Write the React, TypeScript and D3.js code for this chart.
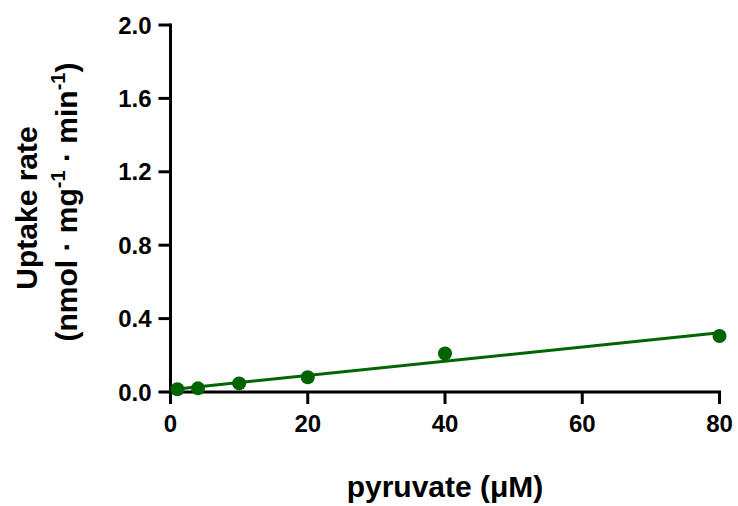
import React from "react";
import * as d3 from "d3";

const xValues = [1, 4, 10, 20, 40, 80];
const yValues = [0.015, 0.02, 0.047, 0.08, 0.21, 0.305];
const xTicks = [0, 20, 40, 60, 80];
const yTicks = [0, 0.4, 0.8, 1.2, 1.6, 2.0];

const GREEN = "#006400";
const FONT = "'Liberation Sans', Arial, sans-serif";

export default function App() {
  const W = 738, H = 506;
  const x = d3.scaleLinear().domain([0, 80]).range([170.5, 719.5]);
  const y = d3.scaleLinear().domain([0, 2]).range([392, 25]);

  const mx = d3.mean(xValues)!;
  const my = d3.mean(yValues)!;
  const sxy = d3.sum(xValues.map((v, i) => (v - mx) * (yValues[i] - my)));
  const sxx = d3.sum(xValues.map((v) => (v - mx) ** 2));
  const slope = sxy / sxx;
  const intercept = my - slope * mx;
  const x0 = d3.min(xValues)!, x1 = d3.max(xValues)!;
  const line = d3.line<number>().x((d) => x(d)).y((d) => y(intercept + slope * d));

  return (
    <svg width={W} height={H} style={{ position: "absolute", left: 0, top: 0 }}>
      <rect width={W} height={H} fill="#fff" />
      {/* y axis */}
      <line x1={x(0)} x2={x(0)} y1={y(2) - 1.5} y2={y(0) + 1.5} stroke="#000" strokeWidth={3} />
      {yTicks.map((t) => (
        <g key={t}>
          <line x1={x(0) - 12} x2={x(0)} y1={y(t)} y2={y(t)} stroke="#000" strokeWidth={3} />
          <text x={x(0) - 19} y={y(t)} dy="0.36em" textAnchor="end" fontFamily={FONT} fontWeight="bold" fontSize={24}>
            {t.toFixed(1)}
          </text>
        </g>
      ))}
      {/* x axis */}
      <line x1={x(0) - 1.5} x2={x(80) + 1.5} y1={y(0)} y2={y(0)} stroke="#000" strokeWidth={3} />
      {xTicks.map((t) => (
        <g key={t}>
          <line x1={x(t)} x2={x(t)} y1={y(0)} y2={y(0) + 12} stroke="#000" strokeWidth={3} />
          <text x={x(t)} y={432} textAnchor="middle" fontFamily={FONT} fontWeight="bold" fontSize={24}>
            {t}
          </text>
        </g>
      ))}
      {/* fit line */}
      <path d={line([x0, x1]) || ""} stroke={GREEN} strokeWidth={3} fill="none" />
      {xValues.map((v, i) => (
        <circle key={i} cx={x(v)} cy={y(yValues[i])} r={7} fill={GREEN} />
      ))}
      {/* titles */}
      <text x={445} y={497} textAnchor="middle" fontFamily={FONT} fontWeight="bold" fontSize={30}>
        pyruvate (μM)
      </text>
      <text transform="translate(37,208) rotate(-90)" textAnchor="middle" fontFamily={FONT} fontWeight="bold" fontSize={30}>
        Uptake rate
      </text>
      <text transform="translate(77,202) rotate(-90)" textAnchor="middle" fontFamily={FONT} fontWeight="bold" fontSize={30}>
        (nmol · mg<tspan dy="-12" fontSize={20}>-1</tspan><tspan dy="12"> · min</tspan><tspan dy="-12" fontSize={20}>-1</tspan><tspan dy="12">)</tspan>
      </text>
    </svg>
  );
}
